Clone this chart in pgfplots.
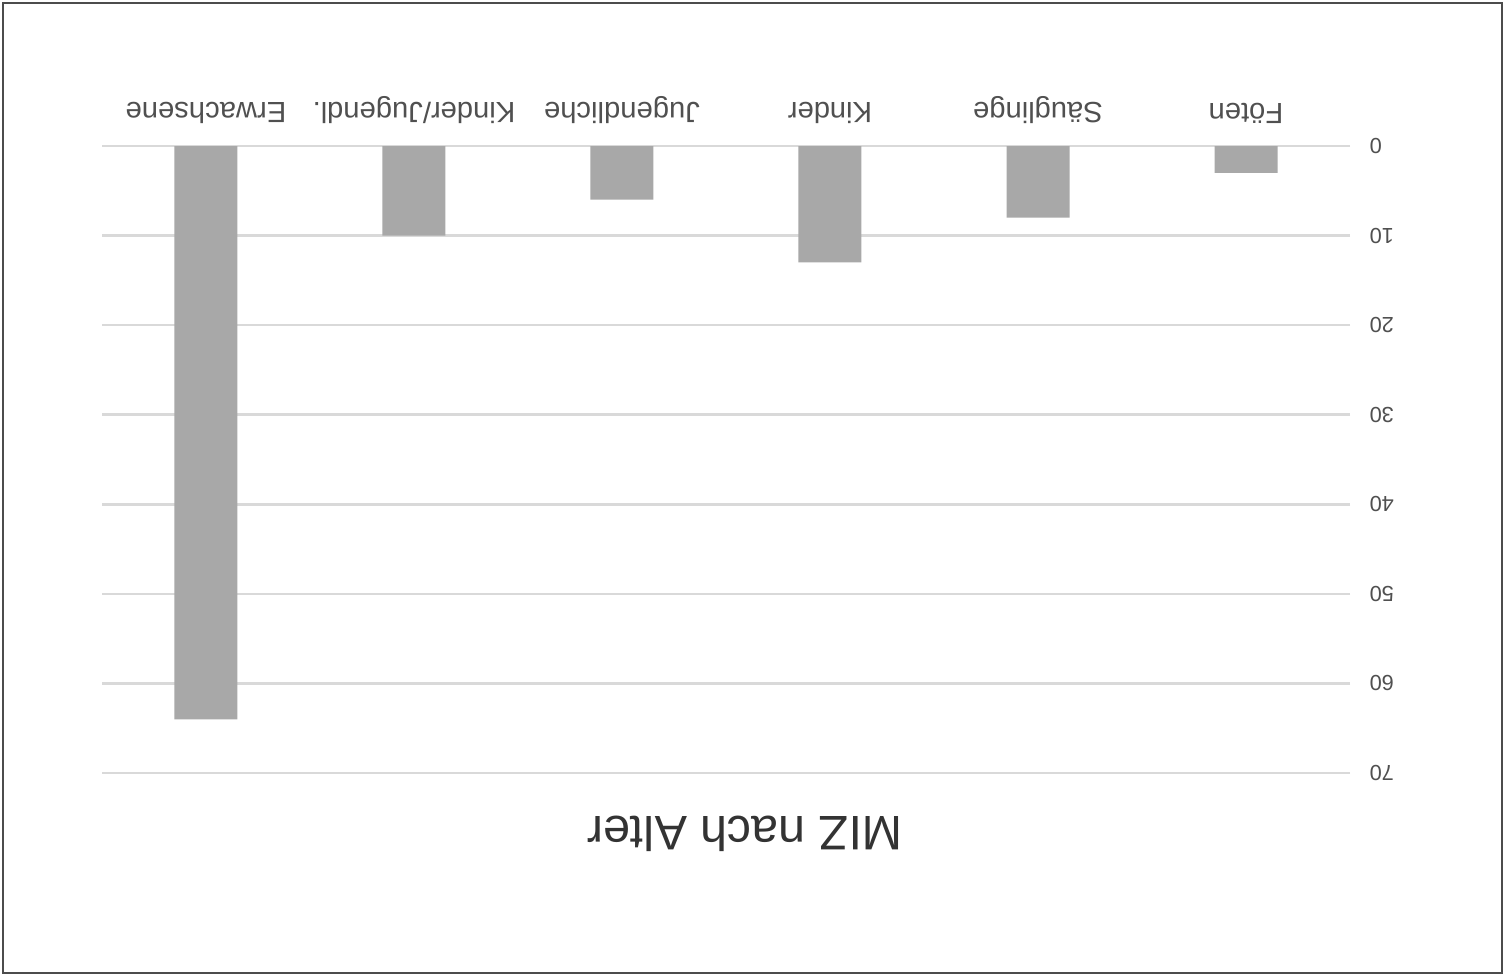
\documentclass[border=0pt]{standalone}
\usepackage{pgfplots}
\pgfplotsset{compat=1.18}
\usepackage{fontspec}
\setmainfont{Liberation Sans}
\definecolor{barc}{HTML}{A8A8A8}
\definecolor{gridc}{HTML}{D9D9D9}
\definecolor{txt}{HTML}{505050}
\definecolor{ttl}{HTML}{333333}
\begin{document}
\begin{tikzpicture}
\path[use as bounding box, fill=white] (0,0) rectangle (15.05,9.76);
\draw[black!70, line width=0.2mm] (0.03,0.03) rectangle (15.02,9.73);
\begin{axis}[
  at={(1.02cm,2.03cm)}, anchor=south west,
  scale only axis, width=12.48cm, height=6.27cm,
  x dir=reverse, y dir=reverse,
  xmin=-0.5, xmax=5.5, ymin=0, ymax=70,
  ybar, bar width=6.3mm, bar shift=0pt,
  xtick=data,
  xticklabels={Föten,Säuglinge,Kinder,Jugendliche,Kinder/Jugendl.,Erwachsene},
  xticklabel pos=upper,
  ytick={0,10,...,70},
  yticklabel pos=upper,
  axis line style={draw=none},
  major tick length=0pt,
  ymajorgrids, grid style={gridc, line width=0.25mm},
  xticklabel style={rotate=180, anchor=north, inner ysep=2.2mm, font=\fontsize{8.3}{10}\selectfont, text=txt},
  yticklabel style={rotate=180, anchor=east, inner xsep=1.9mm, font=\fontsize{6.2}{8}\selectfont, text=txt},
  /pgf/number format/assume math mode=true,
  clip=false,
]
\addplot[fill=barc, draw=none] coordinates {(0,3) (1,8) (2,13) (3,6) (4,10) (5,64)};
\end{axis}
\node[rotate=180, text=ttl, font=\fontsize{13.8}{16}\selectfont] at (7.45,1.42) {MIZ nach Alter};
\end{tikzpicture}
\end{document}
